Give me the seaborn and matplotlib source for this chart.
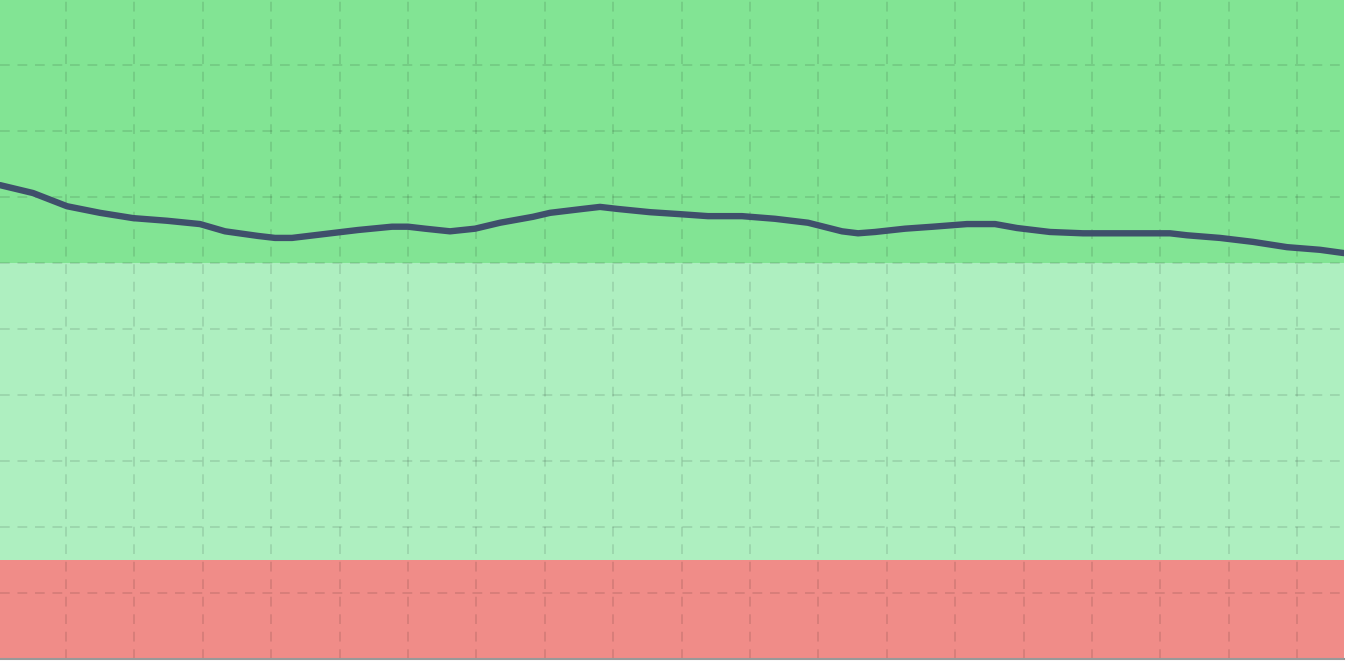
import matplotlib
matplotlib.use("Agg")
import matplotlib.pyplot as plt
import seaborn as sns
import pandas as pd

# x positions in tick units (ticks at integers), y values on a 0-100 scale
x_vals = [-0.965, -0.482, 0.015, 0.497, 0.980, 1.477, 1.959, 2.325, 2.807, 3.056,
          3.304, 3.787, 4.269, 4.766, 5.000, 5.249, 5.614, 5.980, 6.345, 6.827,
          7.076, 7.558, 7.807, 8.056, 8.538, 8.977, 9.386, 9.883, 10.365, 10.848,
          11.345, 11.579, 11.827, 12.266, 12.675, 13.173, 13.582, 13.904, 14.386,
          14.868, 15.365, 16.140, 16.389, 16.871, 17.354, 17.851, 18.333, 18.684]
y_vals = [71.8, 70.6, 68.6, 67.6, 66.8, 66.4, 65.9, 64.8, 64.1, 63.8,
          63.8, 64.4, 65.0, 65.5, 65.5, 65.2, 64.8, 65.2, 66.1, 67.0,
          67.6, 68.2, 68.5, 68.2, 67.7, 67.4, 67.1, 67.1, 66.7, 66.1,
          64.8, 64.5, 64.7, 65.2, 65.5, 65.9, 65.9, 65.3, 64.7,
          64.5, 64.5, 64.5, 64.2, 63.8, 63.2, 62.4, 62.0, 61.5]

band_edges = [0, 15, 60, 100]
band_colors = ["#f08c88", "#aeefc0", "#82e494"]

df = pd.DataFrame({"x": x_vals, "y": y_vals})

sns.set_style("white")
fig = plt.figure(figsize=(13.62, 6.64), dpi=100)
ax = fig.add_axes([0, 5/664, 1344/1362, 660/664])

for lo, hi, c in zip(band_edges[:-1], band_edges[1:], band_colors):
    ax.axhspan(lo, hi, color=c, lw=0, zorder=1)

sns.lineplot(data=df, x="x", y="y", ax=ax, color="#3f506b", lw=4.6,
             sort=True, zorder=3, solid_capstyle="round",
             solid_joinstyle="round")

ax.set_xlim(-0.965, 18.684)
ax.set_ylim(0, 100)
ax.set_xticks(range(0, 19))
ax.set_yticks(range(0, 101, 10))
ax.set_xticklabels([])
ax.set_yticklabels([])
ax.set_xlabel("")
ax.set_ylabel("")
ax.set_axisbelow("line")
ax.grid(True, color="black", alpha=0.1, lw=1.4, ls=(0, (5, 4)))
ax.tick_params(axis="x", length=5, color="#dddddd", width=1)
ax.tick_params(axis="y", length=0)
for s in ["top", "right", "left"]:
    ax.spines[s].set_visible(False)
ax.spines["bottom"].set_color("#999999")
ax.spines["bottom"].set_linewidth(1.5)

fig.savefig("out.png", dpi=100)
